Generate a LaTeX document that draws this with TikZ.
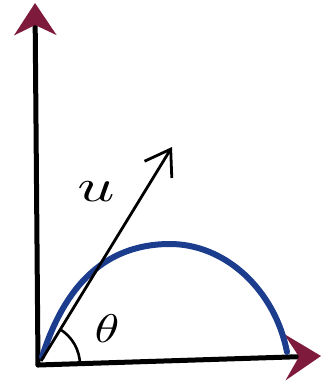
\documentclass[tikz,border=0pt]{standalone}
\usetikzlibrary{arrows.meta}
\definecolor{tipred}{HTML}{7E1A3C}
\definecolor{trajblue}{HTML}{1C3D8E}
\tikzset{
  axis/.style={line width=5pt, line cap=round, -{Stealth[length=32pt,width=42pt,inset=10pt,color=tipred]}},
  velvec/.style={line width=2.8pt, -{Straight Barb[length=24pt,width=32pt,line width=2.8pt]}},
  traj/.style={line width=6pt, trajblue, line cap=round},
  anglearc/.style={line width=2.6pt},
  lbl/.style={inner sep=0pt}
}
\begin{document}
\begin{tikzpicture}[x=1pt,y=-1pt]
\useasboundingbox (0,0) rectangle (334,387);
\coordinate (O) at (38,365);
\coordinate (Y) at (35,3);
\coordinate (X) at (321,356);
\coordinate (U) at (172,147);
\coordinate (E) at (287,352);
% axes
\draw[axis] (O) -- (Y);
\draw[axis, -{Stealth[length=36pt,width=46pt,inset=14pt,color=tipred]}] (O) -- (X);
% trajectory
\draw[traj] (42,357) .. controls (65,285) and (105,245) .. (168,244)
  .. controls (225,243) and (275,290) .. (E);
% velocity
\draw[velvec] (41,361) -- (U);
% angle
\draw[anglearc] (80,365) arc[start angle=0, end angle=-59, radius=42];
\node[lbl] (theta) at (107,329) {\scalebox{5}[4]{$\theta$}};
\node[lbl] (ulab) at (96,192) {\scalebox{6.5}[4.6]{$u$}};
\end{tikzpicture}
\end{document}
